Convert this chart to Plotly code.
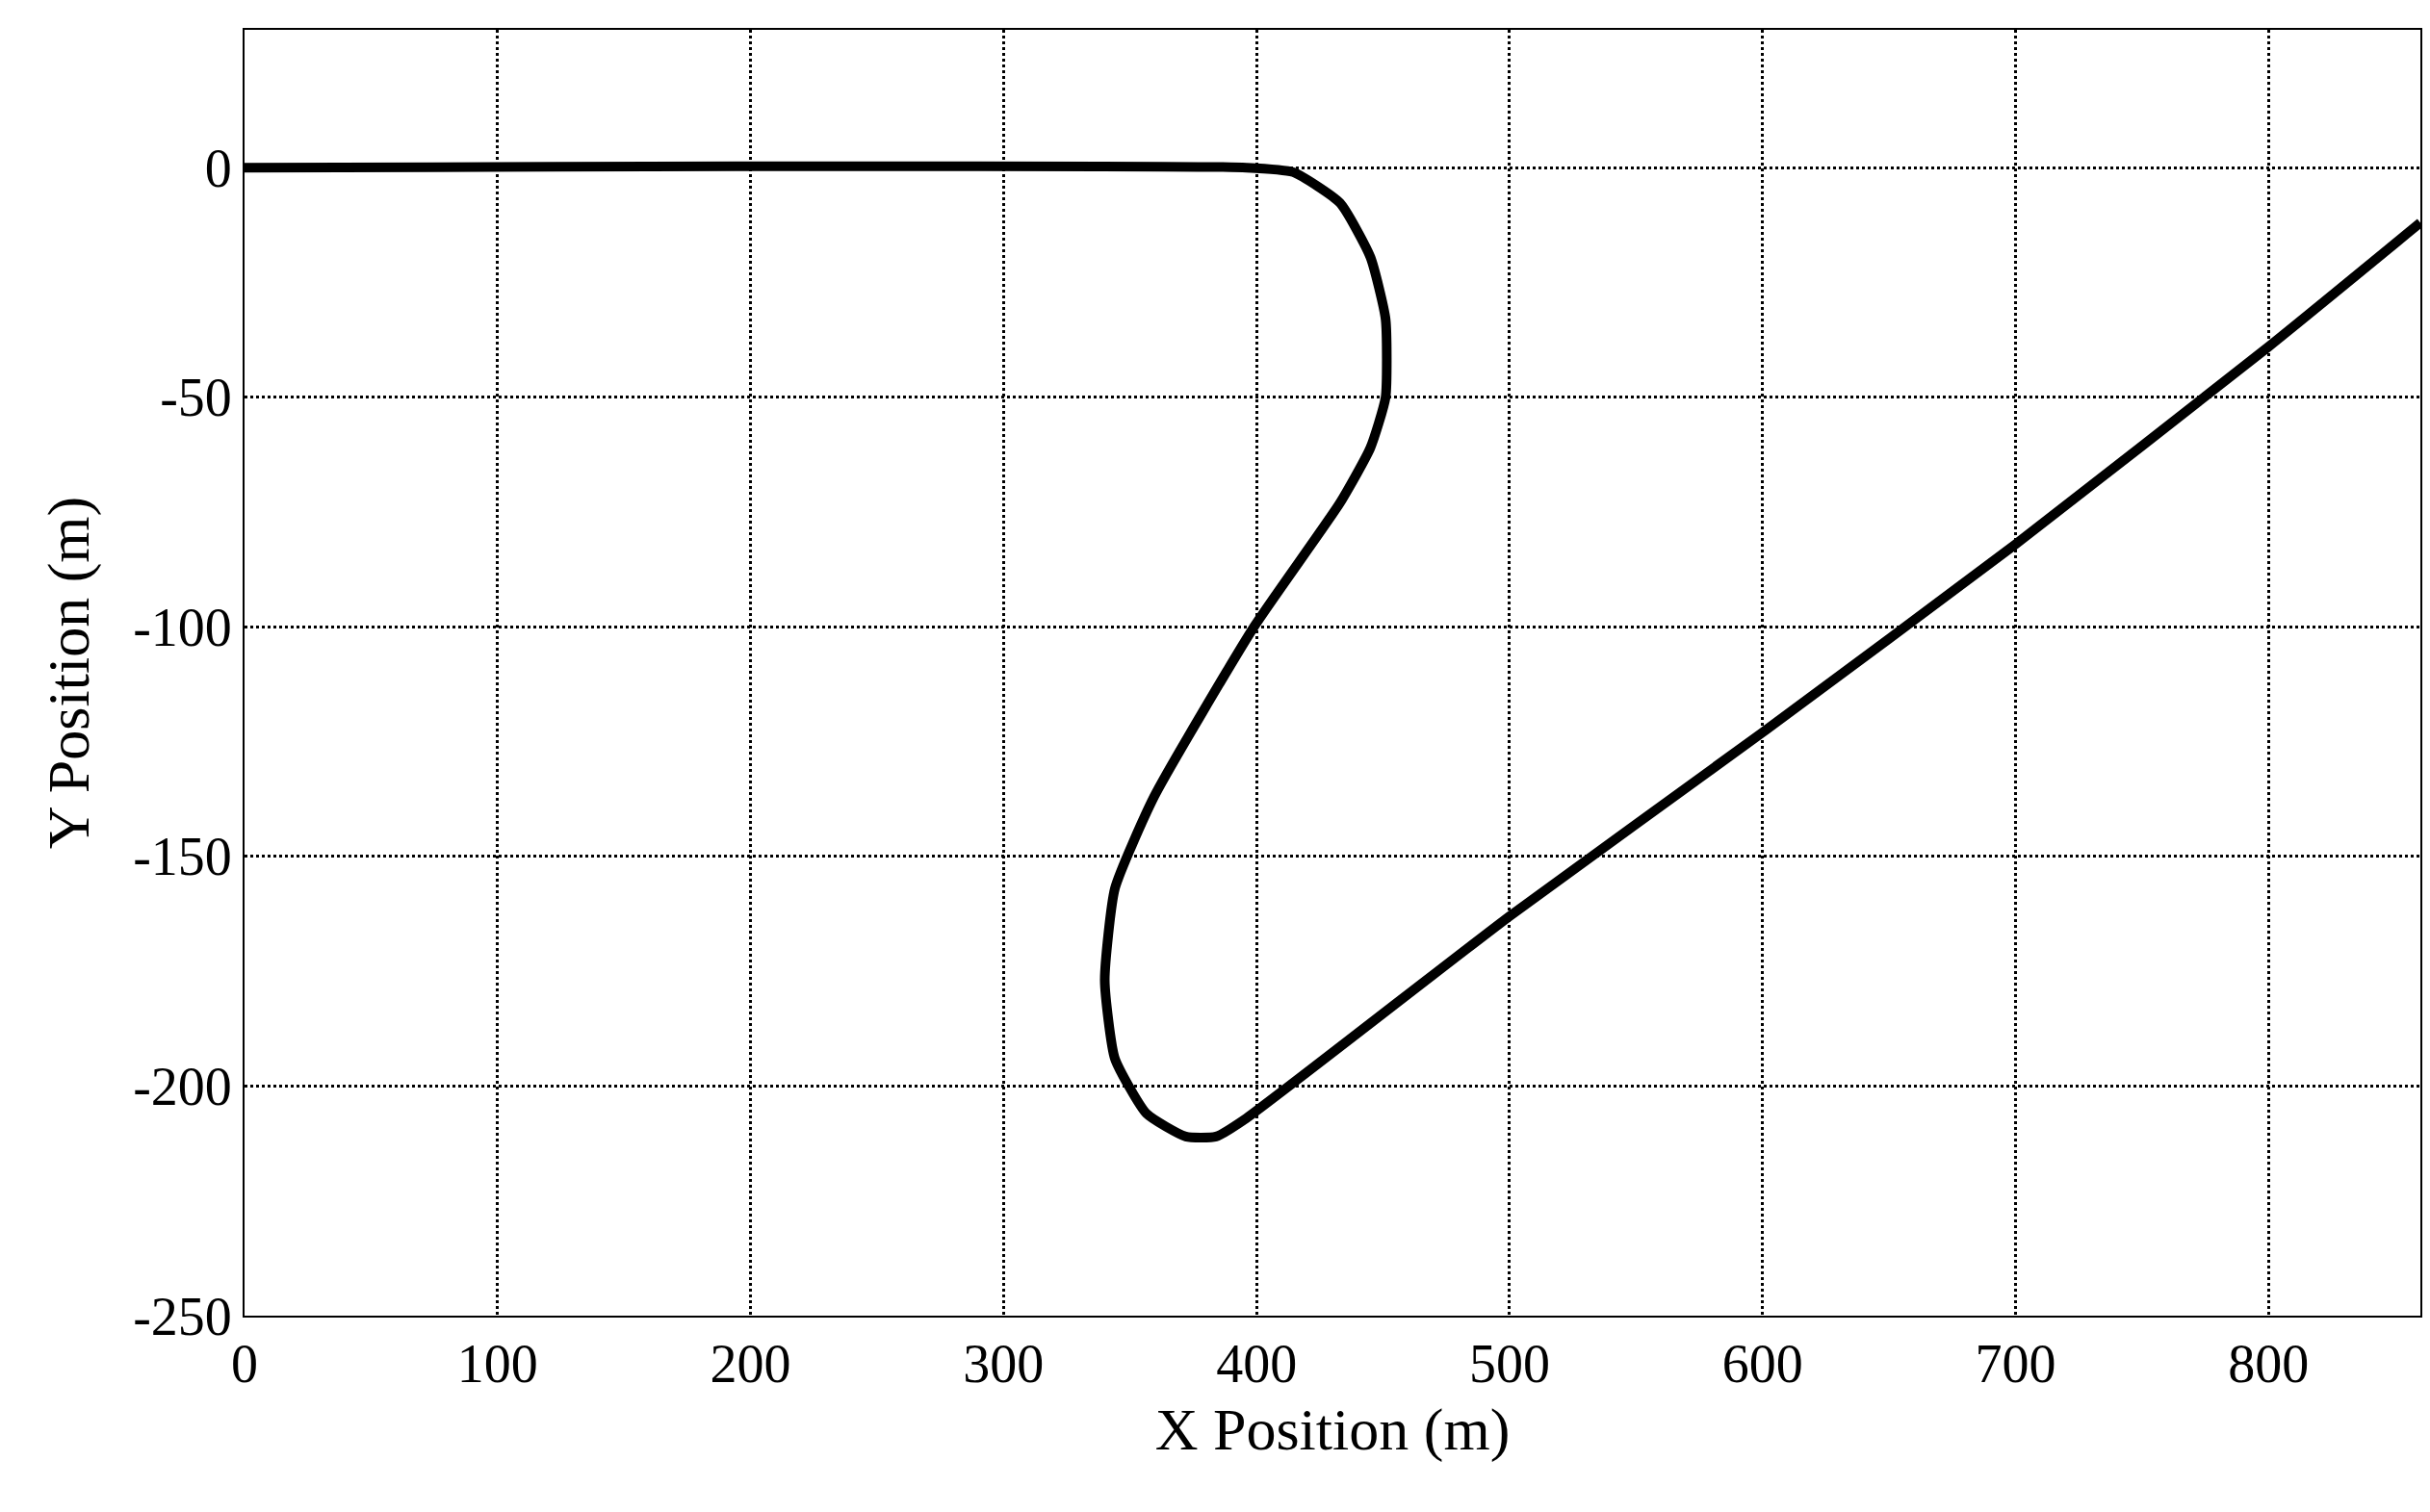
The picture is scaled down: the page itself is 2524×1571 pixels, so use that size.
import plotly.graph_objects as go

x_pos = [0, 396, 414.5, 433, 445, 451, 451, 445, 433, 399, 359.5, 344, 340, 344, 356.5, 372, 384, 396, 500, 600, 700, 800, 860]
y_pos = [0, 0, -1, -7.7, -19.5, -33, -50, -61, -73, -100, -137, -157, -177, -194, -206, -211, -211, -207, -163, -123, -82, -39, -12]
x_ticks = [0, 100, 200, 300, 400, 500, 600, 700, 800]
y_ticks = [0, -50, -100, -150, -200, -250]

fig = go.Figure(go.Scatter(x=x_pos, y=y_pos, mode="lines",
                           line=dict(color="black", width=10, shape="spline", smoothing=0.5)))
ax = dict(showline=True, linecolor="black", linewidth=2, mirror=True, ticks="outside",
          tickcolor="black", ticklen=0, showgrid=True, gridcolor="black", griddash="dot",
          gridwidth=2.5, zeroline=False, tickfont=dict(size=56, color="black"),
          title_font=dict(size=62, color="black"))
fig.update_xaxes(range=[0, 860], tickvals=x_ticks, ticktext=[str(v) for v in x_ticks],
                 title_text="X Position (m)", title_standoff=15, **ax)
fig.update_yaxes(range=[-250, 30], tickvals=y_ticks, ticktext=[str(v) for v in y_ticks],
                 title_text="Y Position (m)", title_standoff=25, **ax)
fig.update_layout(width=2524, height=1571, plot_bgcolor="white", paper_bgcolor="white",
                  font=dict(family="Liberation Serif", color="black"), showlegend=False,
                  margin=dict(l=246, r=18, t=23, b=212))
fig.write_html("out.html")
